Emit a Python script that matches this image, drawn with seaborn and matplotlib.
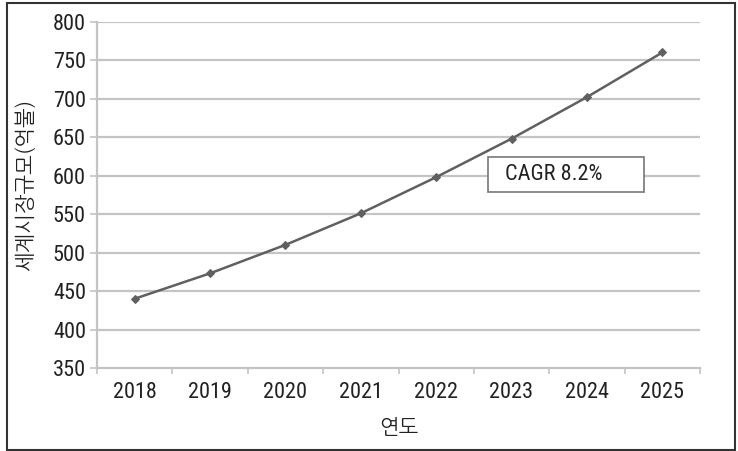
import matplotlib
matplotlib.use("Agg")
import matplotlib.pyplot as plt
from matplotlib.patches import Rectangle
import numpy as np
import pandas as pd
import seaborn as sns

years = ["2018", "2019", "2020", "2021", "2022", "2023", "2024", "2025"]
market_size = [440, 473, 510, 551, 598, 648, 702, 760]
y_ticks = [350, 400, 450, 500, 550, 600, 650, 700, 750, 800]
cagr_label = "CAGR 8.2%"
x_title = "연도"
y_title = "세계시장규모(억불)"

sns.set_theme(style="white")
plt.rcParams["font.family"] = ["Roboto Condensed", "NanumGothic", "DejaVu Sans"]
korean = ["NanumGothic", "Noto Sans CJK KR", "DejaVu Sans"]

df = pd.DataFrame({"pos": np.arange(len(years)), "value": market_size})

fig = plt.figure(figsize=(7.38, 4.51), dpi=100)
ax = fig.add_axes([97 / 738, 1 - 368 / 451, (700 - 97) / 738, (368 - 21.7) / 451])

sns.lineplot(data=df, x="pos", y="value", ax=ax, color="#606060", linewidth=1.8,
             marker="D", markersize=4.5, markeredgecolor="#606060",
             markerfacecolor="#606060")

ax.set_xlim(-0.5, len(years) - 0.5)
ax.set_ylim(y_ticks[0], y_ticks[-1])
ax.set_yticks(y_ticks)
ax.set_yticklabels([str(v) for v in y_ticks])
ax.set_xticks(np.arange(len(years)))
ax.set_xticklabels(years)
ax.set_xticks(np.arange(len(years) + 1) - 0.5, minor=True)

for v in y_ticks[1:]:
    ax.axhline(v, color="#c4c4c4", linewidth=1.6, zorder=0)

for side in ["top", "right"]:
    ax.spines[side].set_visible(False)
for side in ["left", "bottom"]:
    ax.spines[side].set_color("#c4c4c4")
    ax.spines[side].set_linewidth(1.6)

ax.tick_params(axis="x", which="major", length=0, pad=10, labelsize=16, colors="#222222")
ax.tick_params(axis="x", which="minor", length=4, width=1.2, color="#c4c4c4", bottom=True)
ax.tick_params(axis="y", which="major", length=5, width=1.2, color="#c4c4c4",
               left=True, labelsize=16, labelcolor="#222222", pad=3)

ax.set_xlabel(x_title, fontsize=15, color="#222222", labelpad=10, family=korean)
ax.set_ylabel(y_title, fontsize=15, color="#222222", family=korean)
ax.yaxis.set_label_coords(-0.103, 0.53)

# CAGR annotation box
box = Rectangle((488 / 738, 1 - 192 / 451), (644 - 488) / 738, (192 - 157) / 451,
                transform=fig.transFigure, facecolor="white", edgecolor="#777777",
                linewidth=1.2, zorder=5)
fig.patches.append(box)
fig.text(505 / 738, 1 - 175 / 451, cagr_label, fontsize=16, color="#222222",
         va="center", ha="left", zorder=6)

# outer frame around the figure
frame = Rectangle((7 / 738, 1 - 450 / 451), (735 - 7) / 738, (450 - 3) / 451,
                  transform=fig.transFigure, facecolor="none", edgecolor="#333333",
                  linewidth=1.5)
fig.patches.append(frame)

fig.savefig("out.png", dpi=100)
